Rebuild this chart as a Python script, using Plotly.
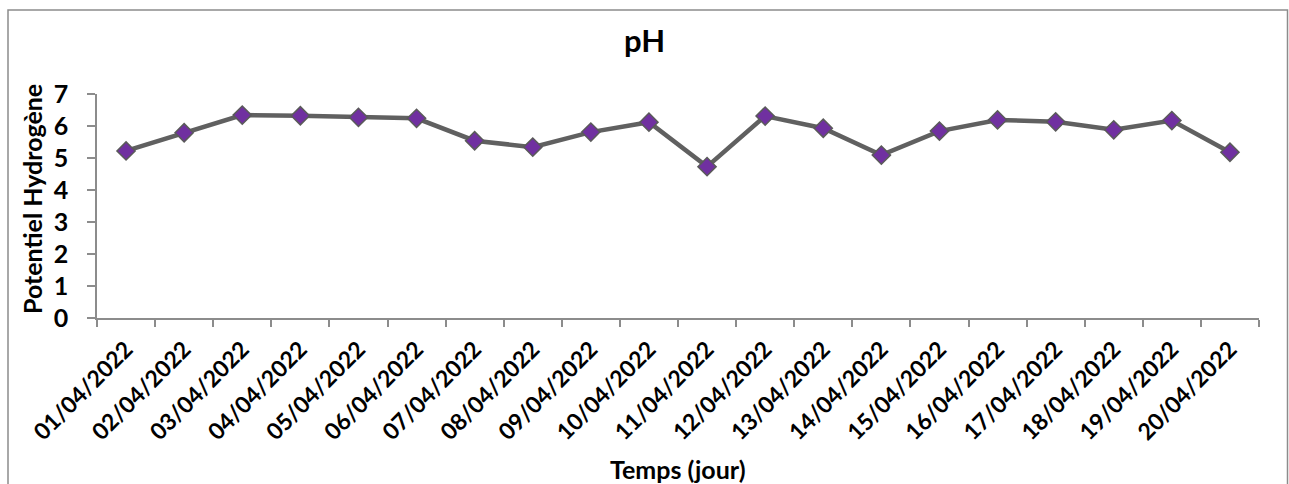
import plotly.graph_objects as go

dates = ["01/04/2022", "02/04/2022", "03/04/2022", "04/04/2022", "05/04/2022",
         "06/04/2022", "07/04/2022", "08/04/2022", "09/04/2022", "10/04/2022",
         "11/04/2022", "12/04/2022", "13/04/2022", "14/04/2022", "15/04/2022",
         "16/04/2022", "17/04/2022", "18/04/2022", "19/04/2022", "20/04/2022"]
ph_values = [5.22, 5.79, 6.34, 6.32, 6.27, 6.24, 5.54, 5.34, 5.81, 6.12,
             4.73, 6.31, 5.93, 5.09, 5.84, 6.19, 6.13, 5.88, 6.17, 5.18]
y_ticks = [0, 1, 2, 3, 4, 5, 6, 7]

FONT = "Lato"
AXIS_GRAY = "#8c8c8c"
PW, PH = 1162, 224  # plot area size in px
L, T = 97, 94

fig = go.Figure()
fig.add_trace(go.Scatter(
    x=dates, y=ph_values, mode="lines+markers",
    line=dict(color="#606060", width=4.5),
    marker=dict(symbol="diamond", size=14, color="#7030A0",
                line=dict(color="#5a5a5a", width=1.5)),
    showlegend=False,
))

fig.update_layout(
    width=1289, height=484,
    margin=dict(l=L, r=1289 - L - PW, t=T, b=484 - T - PH),
    paper_bgcolor="white", plot_bgcolor="white",
    font=dict(family=FONT, color="black"),
    title=dict(text="<b>pH</b>", x=0.5, xanchor="center", y=0.915, yanchor="middle",
               font=dict(family=FONT, size=31, color="black")),
    xaxis=dict(
        type="category", range=[-0.5, len(dates) - 0.5], tickangle=-45, tickson="boundaries",
        ticks="outside", ticklen=7, tickcolor=AXIS_GRAY, tickwidth=1.5,
        ticklabelstandoff=7,
        showline=True, linecolor=AXIS_GRAY, linewidth=1.5,
        showgrid=False, zeroline=False,
        tickfont=dict(family=FONT, size=23, color="black", weight="bold"),
    ),
    yaxis=dict(
        range=[0, 7], tickvals=y_ticks, ticks="outside", ticklen=8,
        tickcolor=AXIS_GRAY, tickwidth=1.5, ticklabelstandoff=14,
        showline=True, linecolor=AXIS_GRAY, linewidth=1.5,
        showgrid=False, zeroline=False,
        tickfont=dict(family=FONT, size=25, color="black", weight="bold"),
    ),
    annotations=[
        dict(text="<b>Potentiel Hydrogène</b>", xref="paper", yref="paper",
             x=(32 - L) / PW, y=(T + PH - 199) / PH, textangle=-90,
             xanchor="center", yanchor="middle", showarrow=False,
             font=dict(family=FONT, size=25, color="black")),
        dict(text="<b>Temps (jour)</b>", xref="paper", yref="paper",
             x=(678 - L) / PW, y=(T + PH - 469) / PH,
             xanchor="center", yanchor="middle", showarrow=False,
             font=dict(family=FONT, size=25, color="black")),
    ],
    shapes=[dict(type="rect", xref="paper", yref="paper",
                 x0=(8 - L) / PW, x1=(1287.5 - L) / PW,
                 y0=(T + PH - 495) / PH, y1=(T + PH - 10) / PH,
                 line=dict(color=AXIS_GRAY, width=1.5), fillcolor="rgba(0,0,0,0)",
                 layer="below")],
)

fig.write_html("out.html")
